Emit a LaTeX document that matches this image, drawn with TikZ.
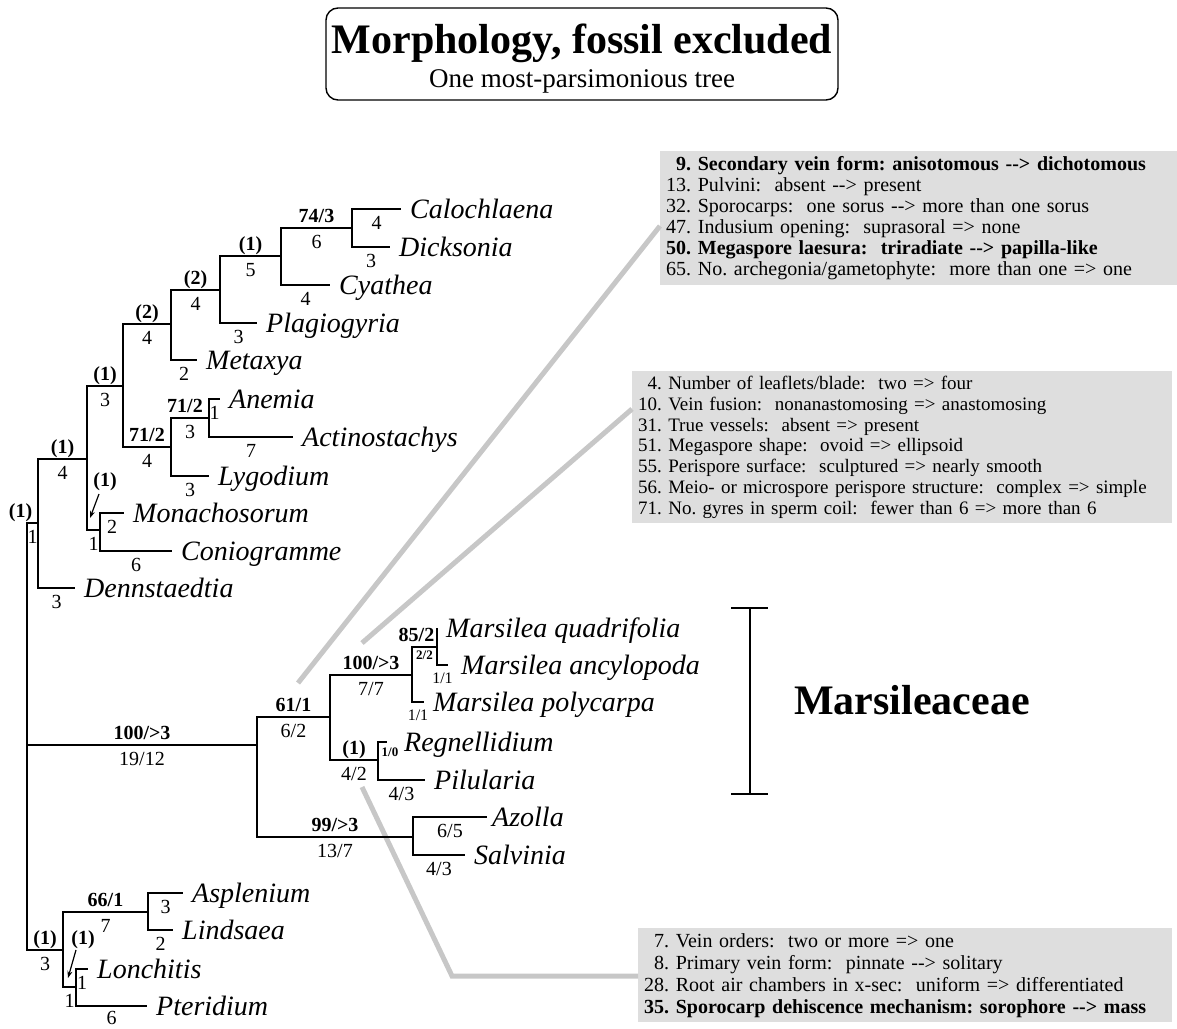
\documentclass[tikz,border=0pt]{standalone}
\usepackage{fontspec}
\setmainfont{Liberation Serif}
\usepackage{tikz}
\usetikzlibrary{arrows.meta,positioning,calc}

\tikzset{
  branch/.style={line width=1.7pt},
  taxon/.style={anchor=base west, inner sep=0pt, xshift=9pt, yshift=-9pt,
    font=\fontsize{28}{30}\selectfont\itshape},
  supp/.style={anchor=south, inner sep=0pt, yshift=5pt, text depth=0pt,
    font=\fontsize{20}{22}\selectfont\bfseries},
  blen/.style={anchor=north, inner sep=0pt, yshift=-6pt, text height=14pt,
    font=\fontsize{20}{22}\selectfont},
  blensm/.style={anchor=north, inner sep=0pt, yshift=-7pt, text height=11pt,
    font=\fontsize{16}{18}\selectfont},
  tinylab/.style={inner sep=0pt, font=\fontsize{13}{14}\selectfont\bfseries},
  charbox/.style={anchor=north west, fill=black!13, align=left,
    inner xsep=6pt, inner ysep=5pt,
    font=\fontsize{20}{21}\selectfont\frenchspacing},
  link/.style={draw=black!22, line width=5pt},
  pointer/.style={line width=1.2pt, -{Stealth[length=7pt,width=5pt]}},
}

\begin{document}
\begin{tikzpicture}[x=1pt,y=-1pt]
\useasboundingbox (0,0) rectangle (1177,1028);

% title
\node[draw, rounded corners=12pt, line width=1.4pt, minimum width=512pt,
      minimum height=92pt] (ttlbox) at (582,54) {};
\node[anchor=base, font=\fontsize{42}{44}\selectfont\bfseries] (ttl) at (582,53)
  {Morphology, fossil excluded};
\node[anchor=base, font=\fontsize{27}{29}\selectfont] (sub) at (582,87)
  {One most-parsimonious tree};

% character lists
\node[charbox, text width=505pt] (box1) at (660,151) {%
  \textbf{\phantom{1}9. Secondary vein form: anisotomous -{}-> dichotomous}\\
  13. Pulvini:~ absent -{}-> present\\
  32. Sporocarps:~ one sorus -{}-> more than one sorus\\
  47. Indusium opening:~ suprasoral => none\\
  \textbf{50. Megaspore laesura:~ triradiate -{}-> papilla-like}\\
  65. No. archegonia/gametophyte:~ more than one => one};
\node[charbox, text width=528pt, font=\fontsize{19}{20.8}\selectfont\frenchspacing] (box2) at (632,371) {%
  \phantom{1}4. Number of leaflets/blade:~ two => four\\
  10. Vein fusion:~ nonanastomosing => anastomosing\\
  31. True vessels:~ absent => present\\
  51. Megaspore shape:~ ovoid => ellipsoid\\
  55. Perispore surface:~ sculptured => nearly smooth\\
  56. Meio- or microspore perispore structure:~ complex => simple\\
  71. No. gyres in sperm coil:~ fewer than 6 => more than 6};
\node[charbox, text width=522pt, font=\fontsize{20}{22}\selectfont\frenchspacing] (box3) at (638,928) {%
  \phantom{1}7. Vein orders:~ two or more => one\\
  \phantom{1}8. Primary vein form:~ pinnate -{}-> solitary\\
  28. Root air chambers in x-sec:~ uniform => differentiated\\
  \textbf{35. Sporocarp dehiscence mechanism: sorophore -{}-> mass}};

% grey pointers to the lists
\coordinate (lkA) at (298,683);
\coordinate (lkB) at (362,643);
\coordinate (lkC) at (362,787);
\coordinate (lkCb) at (452,976);
\draw[link] (lkA) -- ($(box1.north west)+(0,75)$);
\draw[link] (lkB) -- ($(box2.north west)+(0,38)$);
\draw[link] (lkC) -- (lkCb) -- (lkCb -| box3.west);

% internal nodes
\coordinate (root) at (27,745);
\coordinate (nA) at (38,523);
\coordinate (nB) at (87,459);
\coordinate (nC) at (123,386);
\coordinate (nD) at (171,324);
\coordinate (nF) at (220,290);
\coordinate (nG) at (281,256);
\coordinate (nH) at (352,228);
\coordinate (nE) at (171,447);
\coordinate (nI) at (209,418);
\coordinate (nMo) at (100,530);
\coordinate (nM) at (257,745);
\coordinate (nN) at (330,717);
\coordinate (nO) at (412,675);
\coordinate (nP) at (437,647);
\coordinate (nR) at (378,760);
\coordinate (nS) at (413,837);
\coordinate (nL) at (63,950);
\coordinate (nT) at (148,912);
\coordinate (nU) at (76,987);

% tips
\coordinate (cal) at (401,209);
\coordinate (dic) at (390,247);
\coordinate (cya) at (330,285);
\coordinate (pla) at (257,323);
\coordinate (met) at (197,360);
\coordinate (ane) at (220,399);
\coordinate (act) at (293,437);
\coordinate (lyg) at (209,476);
\coordinate (mon) at (124,513);
\coordinate (con) at (172,551);
\coordinate (den) at (75,588);
\coordinate (mqu) at (437,628);
\coordinate (man) at (448,665);
\coordinate (mpo) at (424,702);
\coordinate (reg) at (387,742);
\coordinate (pil) at (425,780);
\coordinate (azo) at (487,817);
\coordinate (sal) at (465,855);
\coordinate (asp) at (183,893);
\coordinate (lin) at (173,930);
\coordinate (lon) at (88,969);
\coordinate (pte) at (147,1006);

% root
\draw[branch] (root) |- node[supp,pos=.75,xshift=-12pt] (sA) {(1)}
  node[blen,pos=.75] (bA) {1} (nA);
\draw[branch] (root) |- node[supp,pos=.75] (sM) {100/>3}
  node[blen,pos=.75] (bM) {19/12} (nM);
\draw[branch] (root) |- node[supp,pos=.75] (sL) {(1)}
  node[blen,pos=.75] (bL) {3} (nL);

% upper clade
\draw[branch] (nA) |- node[supp,pos=.75] (sB) {(1)} node[blen,pos=.75] (bB) {4} (nB);
\draw[branch] (nA) |- node[blen,pos=.75] (bDen) {3} (den);
\draw[branch] (nB) |- node[supp,pos=.75] (sC) {(1)} node[blen,pos=.75] (bC) {3} (nC);
\draw[branch] (nB) |- node[blen,pos=.75] (bMo) {1} (nMo);
\draw[branch] (nC) |- node[supp,pos=.75] (sD) {(2)} node[blen,pos=.75] (bD) {4} (nD);
\draw[branch] (nC) |- node[supp,pos=.75] (sE) {71/2} node[blen,pos=.75] (bE) {4} (nE);
\draw[branch] (nD) |- node[supp,pos=.75] (sF) {(2)} node[blen,pos=.75] (bF) {4} (nF);
\draw[branch] (nD) |- node[blen,pos=.75] (bMet) {2} (met);
\draw[branch] (nF) |- node[supp,pos=.75] (sG) {(1)} node[blen,pos=.75] (bG) {5} (nG);
\draw[branch] (nF) |- node[blen,pos=.75] (bPla) {3} (pla);
\draw[branch] (nG) |- node[supp,pos=.75] (sH) {74/3} node[blen,pos=.75] (bH) {6} (nH);
\draw[branch] (nG) |- node[blen,pos=.75] (bCya) {4} (cya);
\draw[branch] (nH) |- node[blen,pos=.75] (bCal) {4} (cal);
\draw[branch] (nH) |- node[blen,pos=.75] (bDic) {3} (dic);
\draw[branch] (nE) |- node[supp,pos=.75,xshift=-5pt] (sI) {71/2} node[blen,pos=.75] (bI) {3} (nI);
\draw[branch] (nE) |- node[blen,pos=.75] (bLyg) {3} (lyg);
\draw[branch] (nI) |- node[blen,pos=.75] (bAne) {1} (ane);
\draw[branch] (nI) |- node[blen,pos=.75] (bAct) {7} (act);
\draw[branch] (nMo) |- node[blen,pos=.75] (bMon) {2} (mon);
\draw[branch] (nMo) |- node[blen,pos=.75] (bCon) {6} (con);

\node[supp,anchor=center,yshift=0pt] (sMo) at (105,485) {(1)};
\coordinate (aMo) at (90,518);
\draw[pointer] (sMo) ++(-6,14) -- (aMo);

% water ferns
\draw[branch] (nM) |- node[supp,pos=.75] (sN) {61/1} node[blen,pos=.75] (bN) {6/2} (nN);
\draw[branch] (nM) |- node[supp,pos=.75] (sS) {99/>3} node[blen,pos=.75] (bS) {13/7} (nS);
\draw[branch] (nN) |- node[supp,pos=.75] (sO) {100/>3} node[blen,pos=.75] (bO) {7/7} (nO);
\draw[branch] (nN) |- node[supp,pos=.75] (sR) {(1)} node[blen,pos=.75] (bR) {4/2} (nR);
\draw[branch] (nO) |- node[supp,pos=.75,xshift=-8pt] (sP) {85/2}
  node[tinylab,pos=.75,anchor=north,yshift=-3pt] (bP) {2/2} (nP);
\draw[branch] (nO) |- node[blensm,pos=.75] (bMpo) {1/1} (mpo);
\draw[branch] (nP) |- (mqu);
\draw[branch] (nP) |- node[blensm,pos=.75] (bMan) {1/1} (man);
\draw[branch] (nR) |- node[tinylab,pos=1,anchor=north,xshift=3pt,yshift=-5pt] (bReg) {1/0} (reg);
\draw[branch] (nR) |- node[blen,pos=.75] (bPil) {4/3} (pil);
\draw[branch] (nS) |- node[blen,pos=.75] (bAzo) {6/5} (azo);
\draw[branch] (nS) |- node[blen,pos=.75] (bSal) {4/3} (sal);

% lower clade
\draw[branch] (nL) |- node[supp,pos=.75] (sT) {66/1} node[blen,pos=.75] (bT) {7} (nT);
\draw[branch] (nL) |- node[blen,pos=.75] (bU) {1} (nU);
\draw[branch] (nT) |- node[blen,pos=.75] (bAsp) {3} (asp);
\draw[branch] (nT) |- node[blen,pos=.75] (bLin) {2} (lin);
\draw[branch] (nU) |- node[blen,pos=.75] (bLon) {1} (lon);
\draw[branch] (nU) |- node[blen,pos=.75,yshift=2pt] (bPte) {6} (pte);

\node[supp,anchor=center,yshift=0pt] (sU) at (83,943) {(1)};
\coordinate (aU) at (68,978);
\draw[pointer] (sU) ++(-7,12) -- (aU);

% taxa
\node[taxon] (tCal) at (cal) {Calochlaena};
\node[taxon] (tDic) at (dic) {Dicksonia};
\node[taxon] (tCya) at (cya) {Cyathea};
\node[taxon] (tPla) at (pla) {Plagiogyria};
\node[taxon] (tMet) at (met) {Metaxya};
\node[taxon] (tAne) at (ane) {Anemia};
\node[taxon] (tAct) at (act) {Actinostachys};
\node[taxon] (tLyg) at (lyg) {Lygodium};
\node[taxon] (tMon) at (mon) {Monachosorum};
\node[taxon] (tCon) at (con) {Coniogramme};
\node[taxon] (tDen) at (den) {Dennstaedtia};
\node[taxon] (tMqu) at (mqu) {Marsilea quadrifolia};
\node[taxon,xshift=4pt] (tMan) at (man) {Marsilea ancylopoda};
\node[taxon] (tMpo) at (mpo) {Marsilea polycarpa};
\node[taxon,xshift=8pt] (tReg) at (reg) {Regnellidium};
\node[taxon] (tPil) at (pil) {Pilularia};
\node[taxon,xshift=-4pt] (tAzo) at (azo) {Azolla};
\node[taxon] (tSal) at (sal) {Salvinia};
\node[taxon] (tAsp) at (asp) {Asplenium};
\node[taxon] (tLin) at (lin) {Lindsaea};
\node[taxon] (tLon) at (lon) {Lonchitis};
\node[taxon] (tPte) at (pte) {Pteridium};

% family bracket
\coordinate (barTop) at (750,608);
\coordinate (barBot) at (750,794);
\draw[line width=2.5pt] (barTop) -- (barBot);
\draw[line width=2.5pt] ([xshift=-19pt]barTop) -- ([xshift=18pt]barTop);
\draw[line width=2.5pt] ([xshift=-19pt]barBot) -- ([xshift=18pt]barBot);
\node[font=\fontsize{42}{44}\selectfont\bfseries] (fam) at (912,700) {Marsileaceae};
\end{tikzpicture}
\end{document}
